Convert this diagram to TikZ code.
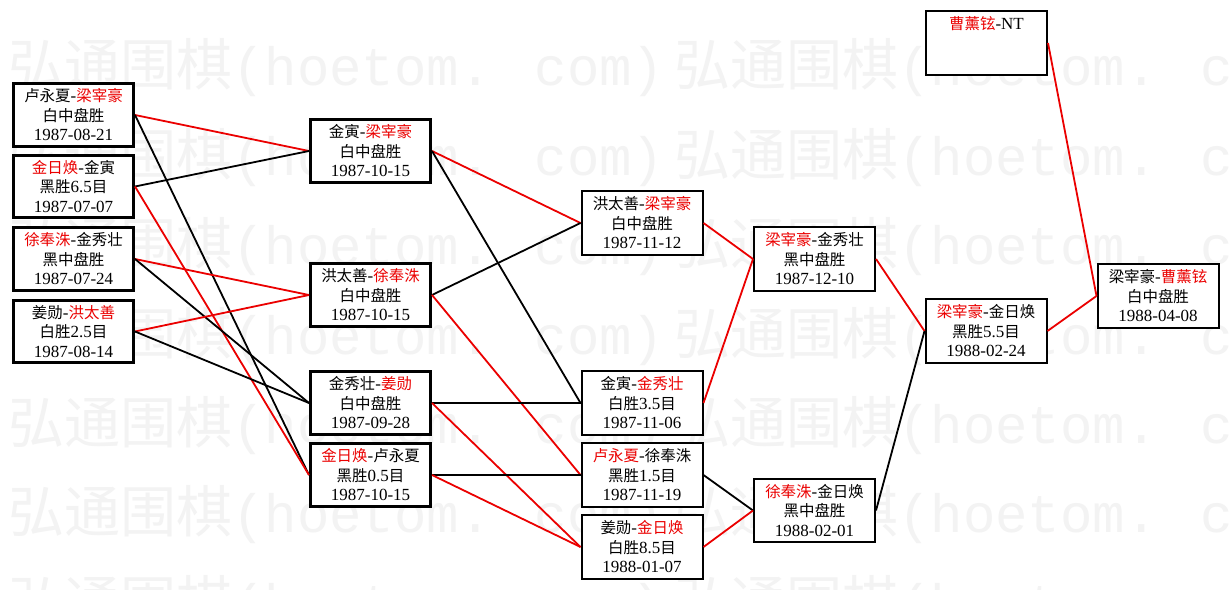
\documentclass[tikz,border=0pt]{standalone}
\usepackage{fontspec}
\setmainfont{Liberation Serif}
\newfontfamily\cjk{Noto Sans CJK SC}[Scale=0.91]
\newfontfamily\wmcjk{Noto Sans CJK SC}
\newfontfamily\wmlat{Liberation Mono}
\definecolor{wred}{RGB}{235,0,0}
\definecolor{wmark}{RGB}{243,243,243}
\newcommand\zh[1]{{\cjk #1}}
\newcommand\zr[1]{{\cjk\color{wred}#1}}
\newcommand\wmunit{{\wmcjk\fontsize{56}{60}\selectfont 弘通围棋}{\wmlat\fontsize{54}{60}\selectfont(hoetom. com)}}
\tikzset{
  game/.style={draw, fill=white, rectangle, inner sep=0pt, align=center,
    font=\fontsize{17}{19.5}\selectfont},
  gthick/.style={game, line width=3pt, minimum width=120pt, minimum height=62.5pt},
  gthin/.style={game, line width=2pt, minimum width=121pt, minimum height=63.5pt},
  win/.style={draw=wred, line width=1.8pt},
  lose/.style={draw=black, line width=1.8pt},
  wmtext/.style={anchor=west, text=wmark, inner sep=0pt}
}
\begin{document}
\begin{tikzpicture}[x=1pt,y=-1pt]
\useasboundingbox (0,0) rectangle (1230,589);
\fill[white] (0,0) rectangle (1230,589);
% watermark
\begin{scope}
\clip (0,0) rectangle (1230,589);
\foreach \yy in {68,158,247,337,426,515,605}{
  \node[wmtext] at (8,\yy) {\wmunit};
  \node[wmtext] at (674,\yy) {\wmunit};
}
\end{scope}
% round 1
\node[gthick] (A) at (73.5,115)   {\zh{卢永夏}-\zr{梁宰豪}\\\zh{白中盘胜}\\1987-08-21};
\node[gthick] (B) at (73.5,186.5) {\zr{金日焕}-\zh{金寅}\\\zh{黑胜}6.5\zh{目}\\1987-07-07};
\node[gthick] (C) at (73.5,259)   {\zr{徐奉洙}-\zh{金秀壮}\\\zh{黑中盘胜}\\1987-07-24};
\node[gthick] (D) at (73.5,331.5) {\zh{姜勋}-\zr{洪太善}\\\zh{白胜}2.5\zh{目}\\1987-08-14};
% round 2
\node[gthick] (E) at (370.5,151) {\zh{金寅}-\zr{梁宰豪}\\\zh{白中盘胜}\\1987-10-15};
\node[gthick] (F) at (370.5,295) {\zh{洪太善}-\zr{徐奉洙}\\\zh{白中盘胜}\\1987-10-15};
\node[gthick] (G) at (370.5,403) {\zh{金秀壮}-\zr{姜勋}\\\zh{白中盘胜}\\1987-09-28};
\node[gthick] (H) at (370.5,475) {\zr{金日焕}-\zh{卢永夏}\\\zh{黑胜}0.5\zh{目}\\1987-10-15};
% round 3
\node[gthin] (I) at (642,223) {\zh{洪太善}-\zr{梁宰豪}\\\zh{白中盘胜}\\1987-11-12};
\node[gthin] (J) at (642,403) {\zh{金寅}-\zr{金秀壮}\\\zh{白胜}3.5\zh{目}\\1987-11-06};
\node[gthin] (K) at (642,475) {\zr{卢永夏}-\zh{徐奉洙}\\\zh{黑胜}1.5\zh{目}\\1987-11-19};
\node[gthin] (L) at (642,547) {\zh{姜勋}-\zr{金日焕}\\\zh{白胜}8.5\zh{目}\\1988-01-07};
% round 4
\node[gthin] (M) at (814.5,259)   {\zr{梁宰豪}-\zh{金秀壮}\\\zh{黑中盘胜}\\1987-12-10};
\node[gthin] (N) at (814.5,510.5) {\zr{徐奉洙}-\zh{金日焕}\\\zh{黑中盘胜}\\1988-02-01};
% round 5
\node[gthin] (O) at (986,331)  {\zr{梁宰豪}-\zh{金日焕}\\\zh{黑胜}5.5\zh{目}\\1988-02-24};
\node[gthin] (P) at (986.5,43) {\zr{曹薰铉}-NT\\\vphantom{\zh{白}}\\\vphantom{1988-04-08}};
% final
\node[gthin] (Q) at (1158,296) {\zh{梁宰豪}-\zr{曹薰铉}\\\zh{白中盘胜}\\1988-04-08};
% connectors
\draw[win]  (A.east) -- (E.west);
\draw[lose] (B.east) -- (E.west);
\draw[lose] (A.east) -- (H.west);
\draw[win]  (B.east) -- (H.west);
\draw[win]  (C.east) -- (F.west);
\draw[lose] (C.east) -- (G.west);
\draw[win]  (D.east) -- (F.west);
\draw[lose] (D.east) -- (G.west);
\draw[win]  (E.east) -- (I.west);
\draw[lose] (E.east) -- (J.west);
\draw[lose] (F.east) -- (I.west);
\draw[win]  (F.east) -- (K.west);
\draw[lose] (G.east) -- (J.west);
\draw[win]  (G.east) -- (L.west);
\draw[lose] (H.east) -- (K.west);
\draw[win]  (H.east) -- (L.west);
\draw[win]  (I.east) -- (M.west);
\draw[win]  (J.east) -- (M.west);
\draw[lose] (K.east) -- (N.west);
\draw[win]  (L.east) -- (N.west);
\draw[win]  (M.east) -- (O.west);
\draw[lose] (N.east) -- (O.west);
\draw[win]  (O.east) -- (Q.west);
\draw[win]  (P.east) -- (Q.west);
\end{tikzpicture}
\end{document}
